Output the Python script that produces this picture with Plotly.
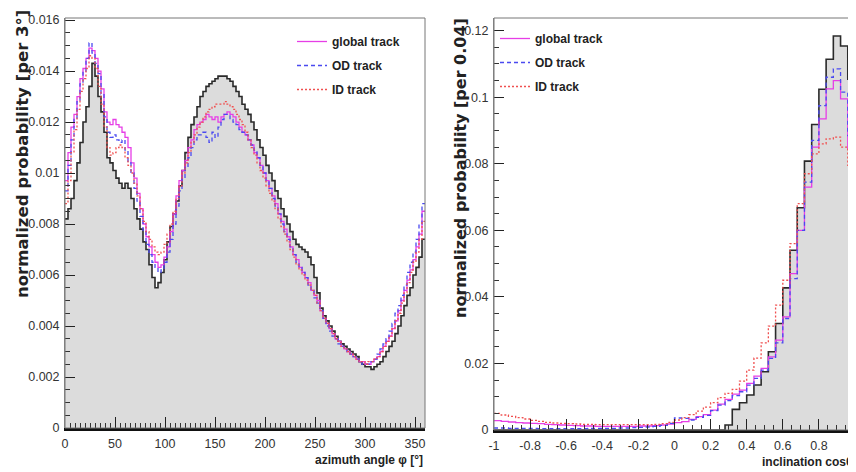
import plotly.graph_objects as go

# ---------------- data: left panel (azimuth angle, 3 deg bins) ----------------
PHI_BIN_WIDTH = 3
PHI_MIN = 0
phi_reference = [
    0.0082, 0.0086, 0.0090, 0.0097, 0.0104, 0.0112, 0.0120, 0.0126, 0.0134, 0.0143,
    0.0138, 0.0130, 0.0124, 0.0116, 0.0106, 0.0104, 0.0101, 0.0098, 0.0096, 0.0094,
    0.0096, 0.0094, 0.0090, 0.0086, 0.0082, 0.0078, 0.0073, 0.0070, 0.0064, 0.0059,
    0.0055, 0.0057, 0.0061, 0.0066, 0.0073, 0.0079, 0.0084, 0.0089, 0.0095, 0.0101,
    0.0108, 0.0114, 0.0119, 0.0122, 0.0126, 0.0130, 0.0132, 0.0134, 0.0135, 0.0136,
    0.0137, 0.0138, 0.0138, 0.0138, 0.0137, 0.0136, 0.0134, 0.0132, 0.0130, 0.0127,
    0.0125, 0.0123, 0.0120, 0.0117, 0.0113, 0.0110, 0.0107, 0.0103, 0.0100, 0.0097,
    0.0093, 0.0090, 0.0086, 0.0083, 0.0080, 0.0077, 0.0074, 0.0072, 0.0071, 0.0070,
    0.0069, 0.0067, 0.0064, 0.0059, 0.0053, 0.0047, 0.0044, 0.0042, 0.0040, 0.0038,
    0.0036, 0.0034, 0.0033, 0.0032, 0.0031, 0.0030, 0.0029, 0.0028, 0.0026, 0.0025,
    0.0024, 0.0024, 0.0023, 0.0024, 0.0025, 0.0026, 0.0028, 0.0030, 0.0032, 0.0034,
    0.0037, 0.0040, 0.0044, 0.0048, 0.0052, 0.0055, 0.0060, 0.0063, 0.0067, 0.0074,
]
phi_global = [
    0.0097, 0.0108, 0.0118, 0.0123, 0.0130, 0.0137, 0.0141, 0.0145, 0.0149, 0.0148,
    0.0145, 0.0140, 0.0133, 0.0124, 0.0120, 0.0119, 0.0121, 0.0119, 0.0118, 0.0116,
    0.0114, 0.0110, 0.0104, 0.0098, 0.0092, 0.0086, 0.0080, 0.0075, 0.0071, 0.0068,
    0.0065, 0.0063, 0.0064, 0.0067, 0.0071, 0.0077, 0.0084, 0.0091, 0.0097, 0.0101,
    0.0105, 0.0110, 0.0113, 0.0117, 0.0119, 0.0120, 0.0121, 0.0123, 0.0122, 0.0121,
    0.0122, 0.0120, 0.0122, 0.0123, 0.0124, 0.0123, 0.0122, 0.0120, 0.0118, 0.0116,
    0.0115, 0.0113, 0.0111, 0.0108, 0.0106, 0.0103, 0.0100, 0.0097, 0.0094, 0.0091,
    0.0088, 0.0084, 0.0081, 0.0078, 0.0075, 0.0071, 0.0068, 0.0066, 0.0063, 0.0061,
    0.0059, 0.0057, 0.0054, 0.0052, 0.0050, 0.0046, 0.0043, 0.0041, 0.0039, 0.0037,
    0.0035, 0.0034, 0.0032, 0.0031, 0.0030, 0.0029, 0.0028, 0.0027, 0.0026, 0.0026,
    0.0025, 0.0025, 0.0026, 0.0027, 0.0028, 0.0030, 0.0032, 0.0034, 0.0036, 0.0039,
    0.0042, 0.0046, 0.0050, 0.0054, 0.0058, 0.0062, 0.0066, 0.0071, 0.0076, 0.0085,
]
phi_od = [
    0.0093, 0.0103, 0.0113, 0.0121, 0.0128, 0.0135, 0.0140, 0.0145, 0.0151, 0.0147,
    0.0143, 0.0139, 0.0131, 0.0122, 0.0116, 0.0114, 0.0115, 0.0113, 0.0112, 0.0113,
    0.0109, 0.0104, 0.0100, 0.0094, 0.0089, 0.0083, 0.0077, 0.0072, 0.0068, 0.0065,
    0.0063, 0.0061, 0.0062, 0.0065, 0.0069, 0.0074, 0.0080, 0.0087, 0.0093, 0.0098,
    0.0102, 0.0106, 0.0110, 0.0113, 0.0115, 0.0115, 0.0116, 0.0114, 0.0112, 0.0116,
    0.0114, 0.0118, 0.0121, 0.0123, 0.0123, 0.0121, 0.0120, 0.0119, 0.0117, 0.0116,
    0.0115, 0.0113, 0.0111, 0.0109, 0.0106, 0.0103, 0.0100, 0.0097, 0.0094, 0.0090,
    0.0087, 0.0084, 0.0080, 0.0077, 0.0074, 0.0071, 0.0068, 0.0065, 0.0063, 0.0061,
    0.0059, 0.0056, 0.0054, 0.0051, 0.0049, 0.0046, 0.0043, 0.0040, 0.0038, 0.0036,
    0.0035, 0.0033, 0.0032, 0.0031, 0.0030, 0.0029, 0.0028, 0.0027, 0.0026, 0.0025,
    0.0025, 0.0025, 0.0026, 0.0027, 0.0029, 0.0031, 0.0033, 0.0035, 0.0038, 0.0041,
    0.0045, 0.0048, 0.0052, 0.0056, 0.0061, 0.0065, 0.0069, 0.0074, 0.0080, 0.0088,
]
phi_id = [
    0.0088, 0.0097, 0.0108, 0.0117, 0.0125, 0.0132, 0.0137, 0.0141, 0.0146, 0.0145,
    0.0141, 0.0134, 0.0127, 0.0118, 0.0110, 0.0107, 0.0108, 0.0110, 0.0111, 0.0110,
    0.0106, 0.0103, 0.0100, 0.0096, 0.0091, 0.0086, 0.0081, 0.0077, 0.0074, 0.0071,
    0.0069, 0.0068, 0.0069, 0.0072, 0.0076, 0.0080, 0.0085, 0.0090, 0.0095, 0.0100,
    0.0104, 0.0108, 0.0112, 0.0115, 0.0118, 0.0120, 0.0122, 0.0124, 0.0125, 0.0126,
    0.0127, 0.0127, 0.0127, 0.0128, 0.0127, 0.0126, 0.0125, 0.0123, 0.0121, 0.0119,
    0.0116, 0.0113, 0.0110, 0.0107, 0.0104, 0.0101, 0.0098, 0.0095, 0.0092, 0.0089,
    0.0086, 0.0082, 0.0079, 0.0076, 0.0073, 0.0070, 0.0067, 0.0064, 0.0062, 0.0060,
    0.0058, 0.0056, 0.0054, 0.0052, 0.0049, 0.0046, 0.0043, 0.0041, 0.0039, 0.0037,
    0.0035, 0.0034, 0.0032, 0.0031, 0.0030, 0.0029, 0.0028, 0.0027, 0.0026, 0.0026,
    0.0025, 0.0026, 0.0026, 0.0027, 0.0028, 0.0030, 0.0032, 0.0034, 0.0036, 0.0039,
    0.0042, 0.0045, 0.0049, 0.0053, 0.0057, 0.0061, 0.0065, 0.0069, 0.0074, 0.0081,
]

# ---------------- data: right panel (cos theta, 0.04 bins) ----------------
COS_BIN_WIDTH = 0.04
COS_MIN = -1.0
cos_reference = [
    0, 0, 0, 0, 0, 0, 0, 0, 0, 0,
    0, 0, 0, 0, 0, 0, 0, 0, 0, 0,
    0, 0, 0, 0, 0, 0, 0, 0, 0, 0,
    0, 0, 0.0015, 0.0062, 0.0082, 0.0105, 0.0135, 0.0175, 0.0235, 0.0320,
    0.0427, 0.0540, 0.0668, 0.0808, 0.0918, 0.1024, 0.1114, 0.1184, 0.1154, 0.1054,
]
cos_global = [
    0.0028, 0.0026, 0.0024, 0.0022, 0.0021, 0.0020, 0.0019, 0.0017, 0.0016, 0.0015,
    0.0014, 0.0013, 0.0012, 0.0012, 0.0011, 0.0011, 0.0011, 0.0011, 0.0011, 0.0011,
    0.0012, 0.0012, 0.0013, 0.0015, 0.0018, 0.0022, 0.0025, 0.0032, 0.0040, 0.0046,
    0.0060, 0.0078, 0.0092, 0.0108, 0.0120, 0.0140, 0.0162, 0.0185, 0.0220, 0.0270,
    0.0340, 0.0470, 0.0600, 0.0730, 0.0850, 0.0935, 0.1025, 0.1050, 0.0995, 0.0845,
]
cos_od = [
    0.0006, 0.0006, 0.0005, 0.0005, 0.0005, 0.0005, 0.0004, 0.0004, 0.0004, 0.0004,
    0.0004, 0.0004, 0.0004, 0.0005, 0.0005, 0.0005, 0.0005, 0.0006, 0.0006, 0.0007,
    0.0008, 0.0009, 0.0011, 0.0014, 0.0020, 0.0036, 0.0035, 0.0030, 0.0038, 0.0044,
    0.0058, 0.0075, 0.0088, 0.0103, 0.0115, 0.0135, 0.0155, 0.0180, 0.0215, 0.0262,
    0.0335, 0.0455, 0.0600, 0.0745, 0.0870, 0.0975, 0.1060, 0.1085, 0.1015, 0.0885,
]
cos_id = [
    0.0050, 0.0045, 0.0041, 0.0037, 0.0033, 0.0029, 0.0026, 0.0023, 0.0021, 0.0020,
    0.0019, 0.0018, 0.0017, 0.0017, 0.0016, 0.0016, 0.0016, 0.0016, 0.0016, 0.0016,
    0.0016, 0.0016, 0.0017, 0.0019, 0.0023, 0.0030, 0.0037, 0.0046, 0.0057, 0.0069,
    0.0082, 0.0097, 0.0110, 0.0122, 0.0147, 0.0180, 0.0216, 0.0262, 0.0312, 0.0375,
    0.0450, 0.0560, 0.0680, 0.0770, 0.0830, 0.0860, 0.0875, 0.0880, 0.0850, 0.0795,
]

# ---------------- tick labels ----------------
left_x_ticks = [0, 50, 100, 150, 200, 250, 300, 350]
left_x_labels = ["0", "50", "100", "150", "200", "250", "300", "350"]
left_y_ticks = [0, 0.002, 0.004, 0.006, 0.008, 0.01, 0.012, 0.014, 0.016]
left_y_labels = ["0", "0.002", "0.004", "0.006", "0.008", "0.01", "0.012", "0.014", "0.016"]
right_x_ticks = [-1, -0.8, -0.6, -0.4, -0.2, 0, 0.2, 0.4, 0.6, 0.8, 1]
right_x_labels = ["-1", "-0.8", "-0.6", "-0.4", "-0.2", "0", "0.2", "0.4", "0.6", "0.8", "1"]
right_y_ticks = [0, 0.02, 0.04, 0.06, 0.08, 0.1, 0.12]
right_y_labels = ["0", "0.02", "0.04", "0.06", "0.08", "0.1", "0.12"]

series_names = ["global track", "OD track", "ID track"]
series_colors = ["#e63ee6", "#4a4af0", "#f05050"]
series_dash = ["solid", "4px,3px", "2px,2px"]

# the page body keeps an 8px default margin, so the figure is drawn 8px in and 8px smaller
PAGE_MARGIN = 8
W, H = 856 - PAGE_MARGIN, 472 - PAGE_MARGIN
SANS = "Liberation Sans, Arial, sans-serif"


def px(x):
    return (x - PAGE_MARGIN) / W


def py(y):
    return 1 - (y - PAGE_MARGIN) / H


def step_xy(values, x0, width):
    n = len(values)
    xs = [x0 + width * i for i in range(n + 1)]
    ys = list(values) + [values[-1]]
    return xs, ys


fig = go.Figure()

# left panel
xs, ys = step_xy(phi_reference, PHI_MIN, PHI_BIN_WIDTH)
fig.add_trace(go.Scatter(x=xs, y=ys, mode="lines", line=dict(shape="hv", color="#2a2a2a", width=1.6),
                         fill="tozeroy", fillcolor="#dcdcdc", showlegend=False, xaxis="x", yaxis="y"))
for name, vals, col, dash in zip(series_names, [phi_global, phi_od, phi_id], series_colors, series_dash):
    xs, ys = step_xy(vals, PHI_MIN, PHI_BIN_WIDTH)
    fig.add_trace(go.Scatter(x=xs, y=ys, mode="lines", name="<b>" + name + "</b>",
                             line=dict(shape="hv", color=col, width=1.3, dash=dash),
                             xaxis="x", yaxis="y", legend="legend", legendgroup="L" + name))

# right panel
xs, ys = step_xy(cos_reference, COS_MIN, COS_BIN_WIDTH)
fig.add_trace(go.Scatter(x=xs, y=ys, mode="lines", line=dict(shape="hv", color="#2a2a2a", width=1.6),
                         fill="tozeroy", fillcolor="#dcdcdc", showlegend=False, xaxis="x2", yaxis="y2"))
for name, vals, col, dash in zip(series_names, [cos_global, cos_od, cos_id], series_colors, series_dash):
    xs, ys = step_xy(vals, COS_MIN, COS_BIN_WIDTH)
    fig.add_trace(go.Scatter(x=xs, y=ys, mode="lines", name="<b>" + name + "</b>",
                             line=dict(shape="hv", color=col, width=1.3, dash=dash),
                             xaxis="x2", yaxis="y2", legend="legend2", legendgroup="R" + name))

tickfont = dict(family=SANS, size=12.5, color="#333")


def xaxis_cfg(domain, rng, tv, tt, minor_dtick, anchor):
    return dict(domain=domain, range=rng, anchor=anchor, tickmode="array", tickvals=tv, ticktext=tt,
                ticks="inside", ticklen=11, tickwidth=1, tickcolor="#222",
                minor=dict(tickmode="linear", dtick=minor_dtick, tick0=0, ticks="inside", ticklen=5,
                           tickcolor="#333", tickwidth=1),
                showline=True, linecolor="#111", linewidth=2.5, mirror=False, automargin=False,
                showgrid=False, zeroline=False, tickfont=tickfont, ticklabelstandoff=2)


def yaxis_cfg(domain, rng, tv, tt, minor_dtick, anchor):
    return dict(domain=domain, range=rng, anchor=anchor, tickmode="array", tickvals=tv, ticktext=tt,
                ticks="inside", ticklen=10, tickwidth=1, tickcolor="#222",
                minor=dict(tickmode="linear", dtick=minor_dtick, tick0=0, ticks="inside", ticklen=5,
                           tickcolor="#333", tickwidth=1),
                showline=True, linecolor="#888", linewidth=1, mirror=False, automargin=False,
                showgrid=False, zeroline=False, tickfont=tickfont, ticklabelstandoff=2)


legend_font = dict(family=SANS, size=12, color="#222")

fig.update_layout(
    width=W, height=H,
    margin=dict(l=0, r=0, t=0, b=0, autoexpand=False),
    paper_bgcolor="white", plot_bgcolor="white",
    xaxis=xaxis_cfg([px(65), px(425)], [0, 360], left_x_ticks, left_x_labels, 5, "y"),
    yaxis=yaxis_cfg([py(428), py(18)], [0, 0.01608], left_y_ticks, left_y_labels, 0.0005, "x"),
    xaxis2=xaxis_cfg([px(494), px(855)], [-1, 1], right_x_ticks, right_x_labels, 0.05, "y2"),
    yaxis2=yaxis_cfg([py(430), py(18)], [0, 0.1238], right_y_ticks, right_y_labels, 0.005, "x2"),
    legend=dict(x=px(292), y=py(27), xanchor="left", yanchor="top", bgcolor="rgba(0,0,0,0)",
                font=legend_font, itemwidth=30, tracegroupgap=5, traceorder="grouped"),
    legend2=dict(x=px(495), y=py(24), xanchor="left", yanchor="top", bgcolor="rgba(0,0,0,0)",
                 font=legend_font, itemwidth=30, tracegroupgap=5, traceorder="grouped"),
    shapes=[
        dict(type="rect", xref="x domain", yref="y domain", x0=0, x1=1, y0=0, y1=1,
             line=dict(color="#777", width=1)),
        dict(type="rect", xref="x2 domain", yref="y2 domain", x0=0, x1=1, y0=0, y1=1,
             line=dict(color="#777", width=1)),
    ],
    annotations=[
        dict(text="<b>normalized probability [per 3°]</b>", textangle=-90, xref="paper", yref="paper",
             x=px(22), y=py(8), xanchor="center", yanchor="top", showarrow=False,
             font=dict(family="DejaVu Sans, sans-serif", size=16.5, color="#222")),
        dict(text="<b>normalized probability [per 0.04]</b>", textangle=-90, xref="paper", yref="paper",
             x=px(460), y=py(16), xanchor="center", yanchor="top", showarrow=False,
             font=dict(family="DejaVu Sans, sans-serif", size=16, color="#222")),
        dict(text="<b>azimuth angle φ [°]</b>", xref="paper", yref="paper",
             x=px(425), y=py(460), xanchor="right", yanchor="middle", showarrow=False,
             font=dict(family=SANS, size=12, color="#222")),
        dict(text="<b>inclination cosθ</b>", xref="paper", yref="paper",
             x=px(855), y=py(462), xanchor="right", yanchor="middle", showarrow=False,
             font=dict(family=SANS, size=12, color="#222")),
    ],
)

fig.write_html("out.html")
